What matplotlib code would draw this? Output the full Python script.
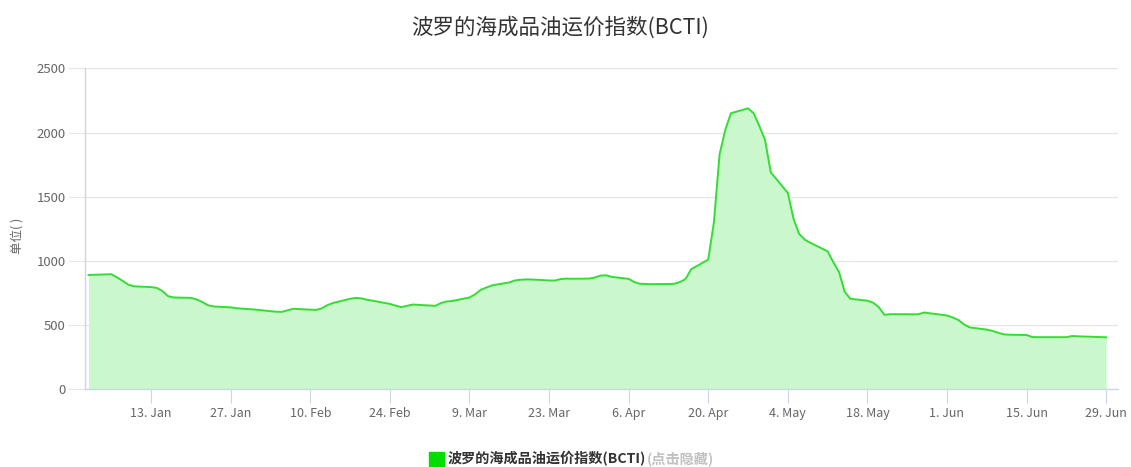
import datetime as dt
import matplotlib
matplotlib.use("Agg")
import matplotlib.pyplot as plt
import matplotlib.dates as mdates
from matplotlib.ticker import FuncFormatter

plt.rcParams['font.family'] = ['Noto Sans CJK SC', 'DejaVu Sans']

title = "波罗的海成品油运价指数(BCTI)"
series_name = "波罗的海成品油运价指数(BCTI)"
y_label = "单位( )"

dates_str = [
    "2020-01-02", "2020-01-03",
    "2020-01-06", "2020-01-07", "2020-01-08", "2020-01-09", "2020-01-10",
    "2020-01-13", "2020-01-14", "2020-01-15", "2020-01-16", "2020-01-17",
    "2020-01-20", "2020-01-21", "2020-01-22", "2020-01-23", "2020-01-24",
    "2020-01-27", "2020-01-28", "2020-01-29", "2020-01-30", "2020-01-31",
    "2020-02-03", "2020-02-04", "2020-02-05", "2020-02-06", "2020-02-07",
    "2020-02-10", "2020-02-11", "2020-02-12", "2020-02-13", "2020-02-14",
    "2020-02-17", "2020-02-18", "2020-02-19", "2020-02-20", "2020-02-21",
    "2020-02-24", "2020-02-25", "2020-02-26", "2020-02-27", "2020-02-28",
    "2020-03-02", "2020-03-03", "2020-03-04", "2020-03-05", "2020-03-06",
    "2020-03-09", "2020-03-10", "2020-03-11", "2020-03-12", "2020-03-13",
    "2020-03-16", "2020-03-17", "2020-03-18", "2020-03-19", "2020-03-20",
    "2020-03-23", "2020-03-24", "2020-03-25", "2020-03-26", "2020-03-27",
    "2020-03-30", "2020-03-31", "2020-04-01", "2020-04-02", "2020-04-03",
    "2020-04-06", "2020-04-07", "2020-04-08", "2020-04-09", "2020-04-10",
    "2020-04-13", "2020-04-14", "2020-04-15", "2020-04-16", "2020-04-17",
    "2020-04-20", "2020-04-21", "2020-04-22", "2020-04-23", "2020-04-24",
    "2020-04-27", "2020-04-28", "2020-04-29", "2020-04-30", "2020-05-01",
    "2020-05-04", "2020-05-05", "2020-05-06", "2020-05-07", "2020-05-08",
    "2020-05-11", "2020-05-12", "2020-05-13", "2020-05-14", "2020-05-15",
    "2020-05-18", "2020-05-19", "2020-05-20", "2020-05-21", "2020-05-22",
    "2020-05-25", "2020-05-26", "2020-05-27", "2020-05-28", "2020-05-29",
    "2020-06-01", "2020-06-02", "2020-06-03", "2020-06-04", "2020-06-05",
    "2020-06-08", "2020-06-09", "2020-06-10", "2020-06-11", "2020-06-12",
    "2020-06-15", "2020-06-16", "2020-06-17", "2020-06-18", "2020-06-19",
    "2020-06-22", "2020-06-23", "2020-06-24", "2020-06-25", "2020-06-26",
    "2020-06-29",
]

values = [
    890, 892,
    896, 872, 845, 815, 802,
    796, 790, 765, 725, 715,
    712, 700, 680, 655, 645,
    638, 632, 628, 625, 622,
    608, 604, 603, 615, 627,
    620, 618, 630, 655, 672,
    705, 712, 708, 697, 690,
    665, 652, 640, 650, 660,
    652, 650, 672, 684, 688,
    715, 740, 775, 793, 810,
    832, 848, 853, 856, 855,
    848, 847, 858, 862, 861,
    862, 870, 885, 888, 876,
    860, 835, 822, 820, 819,
    820, 822, 835, 858, 935,
    1010, 1300, 1830, 2020, 2150,
    2188, 2150, 2050, 1942, 1690,
    1530, 1330, 1210, 1165, 1140,
    1075, 990, 915, 760, 705,
    690, 675, 640, 580, 585,
    585, 584, 585, 598, 592,
    575, 560, 540, 505, 482,
    465, 455, 440, 428, 425,
    423, 407, 406, 406, 406,
    406, 415, 413, 411, 410,
    405,
]

tick_dates_str = ["2020-01-13", "2020-01-27", "2020-02-10", "2020-02-24", "2020-03-09",
                  "2020-03-23", "2020-04-06", "2020-04-20", "2020-05-04", "2020-05-18",
                  "2020-06-01", "2020-06-15", "2020-06-29"]
y_ticks = [0, 500, 1000, 1500, 2000, 2500]

dates = [dt.datetime.strptime(s, "%Y-%m-%d") for s in dates_str]
tick_dates = [dt.datetime.strptime(s, "%Y-%m-%d") for s in tick_dates_str]

fig = plt.figure(figsize=(11.31, 4.67), dpi=100)
ax = fig.add_axes([85 / 1131, (467 - 389.3) / 467, (1118 - 85) / 1131, (389.3 - 68.3) / 467])

line_color = "#33dd33"
fill_color = "#caf7cc"

ax.fill_between(dates, values, 0, color=fill_color, linewidth=0, zorder=2)
ax.plot(dates, values, color=line_color, linewidth=1.4, zorder=3)

ax.set_ylim(0, 2500)
ax.set_xlim(dt.datetime(2020, 1, 1, 9), dt.datetime(2020, 7, 1, 2))
ax.set_yticks(y_ticks)
ax.set_xticks(tick_dates)
ax.xaxis.set_major_formatter(FuncFormatter(
    lambda v, p: f"{mdates.num2date(v).day}. {mdates.num2date(v):%b}"))

ax.grid(axis='y', color='#e6e6e6', linewidth=1, zorder=0)
for s in ['top', 'right']:
    ax.spines[s].set_visible(False)
ax.spines['left'].set_color('#ccd6eb')
ax.spines['bottom'].set_color('#ccd6eb')
ax.spines['left'].set_linewidth(1)
ax.spines['bottom'].set_linewidth(1)

ax.tick_params(axis='y', length=12, color='#e6e6e6', labelsize=9.5, labelcolor='#666666', pad=2)
ax.tick_params(axis='x', length=10, color='#ccd6eb', labelsize=9, labelcolor='#666666', pad=3)

fig.text(17 / 1131, (467 - 236) / 467, y_label, rotation=90, ha='center', va='center',
         fontsize=9, color='#666666')

fig.text(560 / 1131, (467 - 28) / 467, title, ha='center', va='center', fontsize=15.5,
         color='#333333')

# legend
fig.patches.append(plt.Rectangle((429 / 1131, (467 - 466) / 467), 15 / 1131, 14 / 467,
                                 transform=fig.transFigure, color='#00dd00', figure=fig))
t1 = fig.text(448 / 1131, (467 - 459) / 467, series_name, ha='left', va='center',
              fontsize=10.2, fontweight='bold', color='#333333')
fig.canvas.draw()
bb = t1.get_window_extent()
fig.text(bb.x1 / fig.bbox.width, (467 - 459) / 467, "(点击隐藏)", ha='left', va='center',
         fontsize=10.2, fontweight='bold', color='#c0c0c0')

fig.savefig("out.png", dpi=100)
